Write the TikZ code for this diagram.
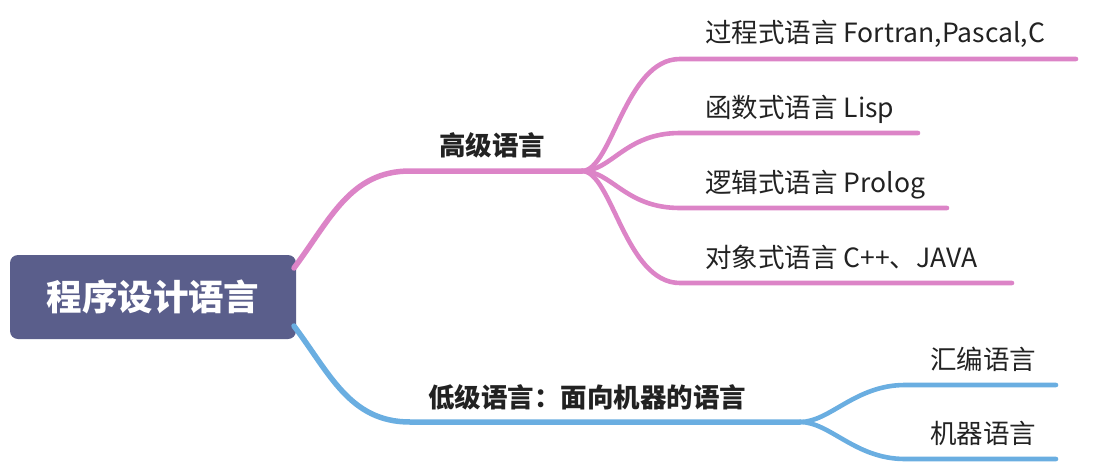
\documentclass[tikz,border=0pt]{standalone}
\usepackage{fontspec}
\newfontfamily\cjk{Noto Sans CJK SC}
\definecolor{rootfill}{HTML}{5A5E8B}
\definecolor{pinkline}{HTML}{DC84C7}
\definecolor{blueline}{HTML}{6AAEE1}
\definecolor{txt}{HTML}{222222}
\tikzset{
  rootbox/.style={fill=rootfill, rounded corners=8pt, text=white, font=\cjk\bfseries\fontsize{35.5}{40}\selectfont, inner sep=0pt, minimum width=286pt, minimum height=84pt},
  leaf/.style={anchor=base west, text=txt, inner sep=0pt, font=\cjk\fontsize{26.5}{30}\selectfont},
  mid/.style={anchor=base west, text=txt, inner sep=0pt, font=\cjk\bfseries\fontsize{26.5}{30}\selectfont},
  mainline/.style={line width=5.5pt, line cap=round},
  subline/.style={line width=4.6pt, line cap=round},
}
\begin{document}
\begin{tikzpicture}[x=1pt,y=-1pt]
\useasboundingbox (0,0) rectangle (1096,464);
% root
\node[rootbox] (root) at (153,297) {程序设计语言};
% coordinates
\coordinate (rp) at (294,268);
\coordinate (rb) at (294,326);
\coordinate (h0) at (410,171);
\coordinate (hj) at (582,171);
\coordinate (l0) at (410,422);
\coordinate (lj) at (800,422);
\coordinate (c1) at (680,59);  \coordinate (e1) at (1076,59);
\coordinate (c2) at (680,133); \coordinate (e2) at (918,133);
\coordinate (c3) at (680,208); \coordinate (e3) at (947,208);
\coordinate (c4) at (680,283); \coordinate (e4) at (1012,283);
\coordinate (d1) at (905,385); \coordinate (f1) at (1056,385);
\coordinate (d2) at (905,459); \coordinate (f2) at (1056,459);
% pink branch
\draw[mainline, pinkline] (rp) .. controls (330,220) and (350,171) .. (h0) -- (hj);
\foreach \c/\e in {c1/e1,c2/e2,c3/e3,c4/e4}{
  \draw[subline, pinkline] (hj) .. controls ([xshift=30pt]hj) and ([xshift=-55pt]\c) .. (\c) -- (\e);
}
% blue branch
\draw[mainline, blueline] (rb) .. controls (330,374) and (350,422) .. (l0) -- (lj);
\foreach \c/\e in {d1/f1,d2/f2}{
  \draw[subline, blueline] (lj) .. controls ([xshift=30pt]lj) and ([xshift=-50pt]\c) .. (\c) -- (\e);
}
% labels
\node[mid] (hi) at (439,155) {高级语言};
\node[mid] (lo) at (428,407) {低级语言：面向机器的语言};
\node[leaf] (t1) at (705,42) {过程式语言 Fortran,Pascal,C};
\node[leaf] (t2) at (705,117) {函数式语言 Lisp};
\node[leaf] (t3) at (705,192) {逻辑式语言 Prolog};
\node[leaf] (t4) at (705,267) {对象式语言 C++、JAVA};
\node[leaf] (t5) at (930,369) {汇编语言};
\node[leaf] (t6) at (930,443) {机器语言};
\end{tikzpicture}
\end{document}
